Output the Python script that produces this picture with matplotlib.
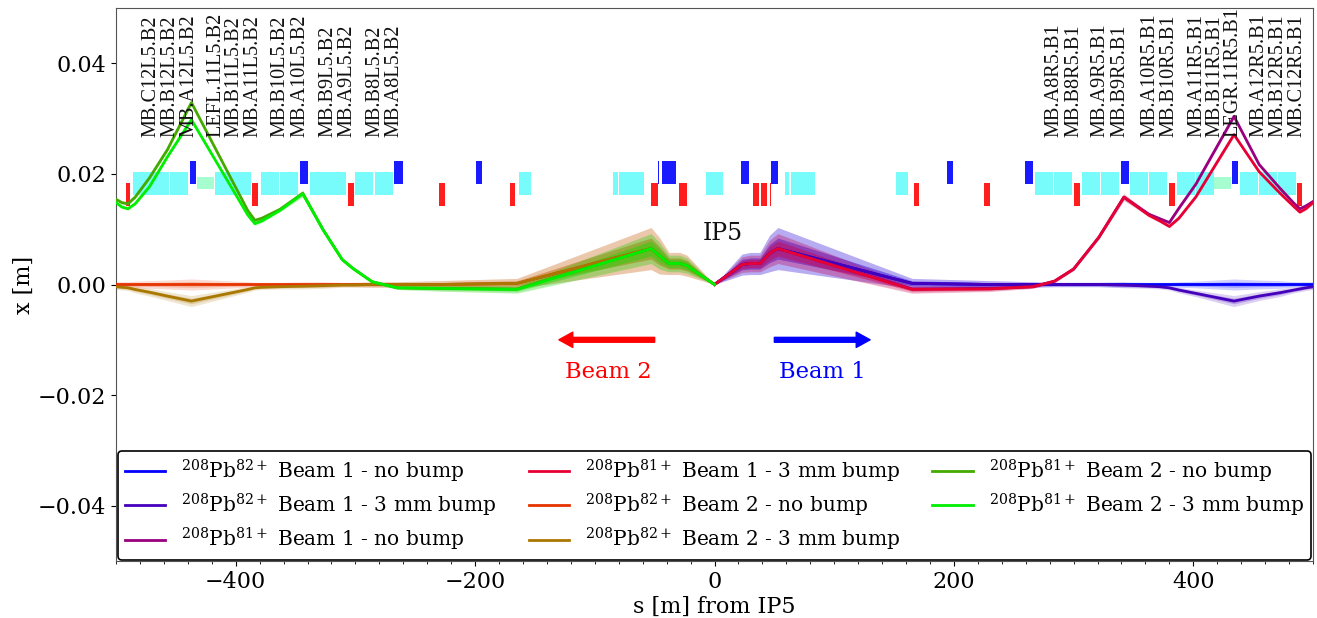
import numpy as np
import matplotlib
matplotlib.use('Agg')
import matplotlib.pyplot as plt

plt.rcParams['font.family'] = 'DejaVu Serif'
plt.rcParams['mathtext.fontset'] = 'dejavuserif'

# optics nodes, s from IP5 in m
s_b2 = [-500, -495, -490, -484, -472, -457, -437, -390, -384, -378, -363, -344, -327, -311, -302, -286, -265, -230, -165, -53, -46, -38, -29, -23, 0]
s_b1 = [0, 23, 30, 38, 46, 53, 165, 230, 266, 284, 300, 321, 342, 363, 372, 380, 388, 402, 434, 455, 472, 484, 489, 494, 500]

pb82_b1_nobump = [0, .0036, .0038, .0038, .0056, .0065, .0002, 0, 0, 0, 0, 0, 0, 0, 0, 0, 0, 0, 0, 0, 0, 0, 0, 0, 0]
pb82_b1_bump = [0, .0036, .0038, .0038, .0056, .0065, .0002, 0, 0, 0, 0, 0, -.0001, -.0003, -.0004, -.0006, -.0010, -.0016, -.0030, -.0021, -.0015, -.0010, -.0008, -.0006, -.0004]
pb81_b1_nobump = [0, .0036, .0038, .0038, .0056, .0065, -.0008, -.0007, -.0004, .0006, .0028, .0085, .0158, .0127, .0119, .0112, .0138, .0181, .0304, .0217, .0175, .0147, .0137, .0142, .0150]
pb81_b1_bump = [0, .0036, .0038, .0038, .0056, .0065, -.0009, -.0008, -.0004, .0006, .0028, .0085, .0158, .0125, .0115, .0105, .0120, .0158, .0271, .0204, .0166, .0141, .0131, .0137, .0148]

pb82_b2_nobump = [0, 0, 0, 0, 0, 0, 0, 0, 0, 0, 0, 0, 0, 0, 0, 0, 0, 0, .0002, .0065, .0052, .0038, .0038, .0034, 0]
pb82_b2_bump = [-.0004, -.0005, -.0006, -.0009, -.0014, -.0021, -.0030, -.0009, -.0006, -.0005, -.0004, -.0003, -.0002, -.0001, -.0001, 0, 0, 0, .0002, .0065, .0052, .0038, .0038, .0034, 0]
pb81_b2_nobump = [.0154, .0148, .0146, .0158, .0193, .0244, .0329, .0134, .0116, .0120, .0136, .0165, .0099, .0045, .0029, .0005, -.0006, -.0007, -.0008, .0065, .0052, .0038, .0038, .0034, 0]
pb81_b2_bump = [.0148, .0140, .0137, .0146, .0177, .0231, .0298, .0126, .0110, .0115, .0134, .0164, .0099, .0045, .0029, .0005, -.0006, -.0007, -.0009, .0065, .0052, .0038, .0038, .0034, 0]

# beam envelope half widths
env82_b2 = [.0005, .0005, .0005, .0006, .0007, .0008, .0010, .0005, .0004, .0004, .0004, .0005, .0005, .0004, .0004, .0005, .0005, .0007, .0009, .0038, .0033, .0020, .0020, .0019, 0]
env81_b2 = [.0003, .0003, .0003, .0003, .0003, .0003, .0004, .0003, .0003, .0003, .0003, .0006, .0004, .0003, .0003, .0003, .0003, .0005, .0007, .0027, .0024, .0015, .0015, .0014, 0]
env82_b1 = [0, .0019, .0020, .0020, .0033, .0038, .0009, .0007, .0005, .0004, .0004, .0004, .0005, .0004, .0004, .0004, .0005, .0006, .0010, .0008, .0007, .0005, .0005, .0005, .0005]
env81_b1 = [0, .0014, .0015, .0015, .0024, .0027, .0007, .0005, .0003, .0003, .0003, .0003, .0006, .0003, .0003, .0003, .0003, .0003, .0004, .0003, .0003, .0003, .0003, .0003, .0003]

# machine elements (start, end) in m
dipoles = [(-486, -471), (-471, -456), (-455, -440), (-417.5, -402.5), (-402.5, -387.5), (-379, -364), (-363, -348),
           (-338, -323), (-323, -308), (-300, -285), (-284, -269), (-163, -153), (-85, -81), (-80, -59), (-7, 7),
           (58.5, 62.6), (63.5, 84.3), (152, 162), (268, 283), (284, 299), (307, 322), (323, 338), (347.5, 362.4), (363, 378),
           (386.6, 401.7), (402.5, 417.5), (439, 454), (455, 470), (471, 486)]
collimators = [(-432.5, -418.5), (417.5, 431.7)]
quads_blue = [(-438, -433), (-346.5, -340), (-268, -260), (-199, -194), (-47, -46), (-44, -38), (-37.6, -32),
              (22.5, 29), (47, 53), (194, 199), (259, 263), (263, 266.4), (340, 346.5), (432.6, 437.6)]
quads_red = [(-492, -488), (-386, -381), (-306, -301), (-230.5, -225.5), (-171, -167), (-53.4, -47), (-30, -23),
             (32, 37.5), (38.5, 44), (46, 47), (167, 171), (225.5, 230.5), (300.6, 305.6), (380, 385), (487, 491)]

labels_left = ['MB.C12L5.B2', 'MB.B12L5.B2', 'MB.A12L5.B2', 'LEFL.11L5.B2', 'MB.B11L5.B2', 'MB.A11L5.B2',
               'MB.B10L5.B2', 'MB.A10L5.B2', 'MB.B9L5.B2', 'MB.A9L5.B2', 'MB.B8L5.B2', 'MB.A8L5.B2']
labels_left_s = [-471, -455.1, -439.3, -416.7, -401.7, -385.8, -363.3, -346.5, -323.2, -307.3, -283.9, -268.1]
labels_right = ['MB.A8R5.B1', 'MB.B8R5.B1', 'MB.A9R5.B1', 'MB.B9R5.B1', 'MB.A10R5.B1', 'MB.B10R5.B1',
                'MB.A11R5.B1', 'MB.B11R5.B1', 'LEGR.11R5.B1', 'MB.A12R5.B1', 'MB.B12R5.B1', 'MB.C12R5.B1']
labels_right_s = [283.9, 300.6, 322.3, 339, 364.1, 380, 403.3, 418.4, 433.4, 455.1, 471, 486.8]


def drawElements(ax, elements, low, high, color):
    for start, end in elements:
        ax.bar(start, high - low, width=end - start, bottom=low, align='edge', color=color, linewidth=0, zorder=1)


def drawSeries(ax, s, x, env, color, label):
    s = np.array(s)
    x = np.array(x)
    env = np.array(env)
    ax.fill_between(s, x - env, x + env, color=color, alpha=0.18, linewidth=0, zorder=2)
    ax.fill_between(s, x - env * 0.5, x + env * 0.5, color=color, alpha=0.25, linewidth=0, zorder=2)
    ax.plot(s, x, color=color, linewidth=2, label=label, zorder=3)


fig = plt.figure(figsize=(13.17, 6.18), dpi=100)
ax = fig.add_axes([116 / 1317, 1 - 561 / 618, (1313 - 116) / 1317, (561 - 8) / 618])

drawElements(ax, dipoles, 0.01626, 0.0204, '#78fbfb')
drawElements(ax, collimators, 0.0173, 0.0195, '#a6fdd0')
drawElements(ax, quads_blue, 0.01825, 0.0224, '#1a1aff')
drawElements(ax, quads_red, 0.01427, 0.0184, '#ff1e1e')

drawSeries(ax, s_b1, pb82_b1_nobump, env82_b1, '#0000ff', r'$^{208}$Pb$^{82+}$ Beam 1 - no bump')
drawSeries(ax, s_b1, pb82_b1_bump, env82_b1, '#4400bb', r'$^{208}$Pb$^{82+}$ Beam 1 - 3 mm bump')
drawSeries(ax, s_b1, pb81_b1_nobump, env81_b1, '#990080', r'$^{208}$Pb$^{81+}$ Beam 1 - no bump')
drawSeries(ax, s_b1, pb81_b1_bump, env81_b1, '#e60033', r'$^{208}$Pb$^{81+}$ Beam 1 - 3 mm bump')
drawSeries(ax, s_b2, pb82_b2_nobump, env82_b2, '#e63300', r'$^{208}$Pb$^{82+}$ Beam 2 - no bump')
drawSeries(ax, s_b2, pb82_b2_bump, env82_b2, '#aa7700', r'$^{208}$Pb$^{82+}$ Beam 2 - 3 mm bump')
drawSeries(ax, s_b2, pb81_b2_nobump, env81_b2, '#44aa00', r'$^{208}$Pb$^{81+}$ Beam 2 - no bump')
drawSeries(ax, s_b2, pb81_b2_bump, env81_b2, '#00ee00', r'$^{208}$Pb$^{81+}$ Beam 2 - 3 mm bump')

for name, pos in zip(labels_left + labels_right, labels_left_s + labels_right_s):
    ax.text(pos, 0.0267, name, rotation=90, ha='center', va='bottom', fontsize=14.6,
            family='Liberation Serif', color='#111111', clip_on=False, zorder=4)

ax.annotate('', xy=(-130, -0.01), xytext=(-50, -0.01),
            arrowprops=dict(color='red', width=3.5, headwidth=11, headlength=10, shrink=0))
ax.annotate('', xy=(130, -0.01), xytext=(50, -0.01),
            arrowprops=dict(color='blue', width=3.5, headwidth=11, headlength=10, shrink=0))
ax.text(-89, -0.0158, 'Beam 2', color='red', fontsize=16.3, ha='center', va='center')
ax.text(90, -0.0158, 'Beam 1', color='blue', fontsize=16.3, ha='center', va='center')
ax.text(7, 0.0092, 'IP5', color='#111111', fontsize=17, ha='center', va='center')

ax.set_xlim(-500, 500)
ax.set_ylim(-0.05, 0.05)
ax.set_xticks([-400, -200, 0, 200, 400])
ax.set_xticks(np.arange(-500, 501, 20), minor=True)
ax.set_yticks([-0.04, -0.02, 0, 0.02, 0.04])
ax.tick_params(axis='both', which='major', labelsize=16)
ax.set_xlabel('s [m] from IP5', fontsize=16, labelpad=2)
ax.set_ylabel('x [m]', fontsize=16, labelpad=2)
for side in ax.spines:
    ax.spines[side].set_color('#555555')

legend = ax.legend(loc='lower center', bbox_to_anchor=(0.002, 0.002, 0.996, 0.2), ncol=3, mode='expand', fontsize=14.5,
                   framealpha=1, edgecolor='black', borderaxespad=0, borderpad=0.32, labelspacing=0.36)
legend.get_frame().set_linewidth(1.2)
legend.set_zorder(5)

plt.savefig('out.png', dpi=100)
